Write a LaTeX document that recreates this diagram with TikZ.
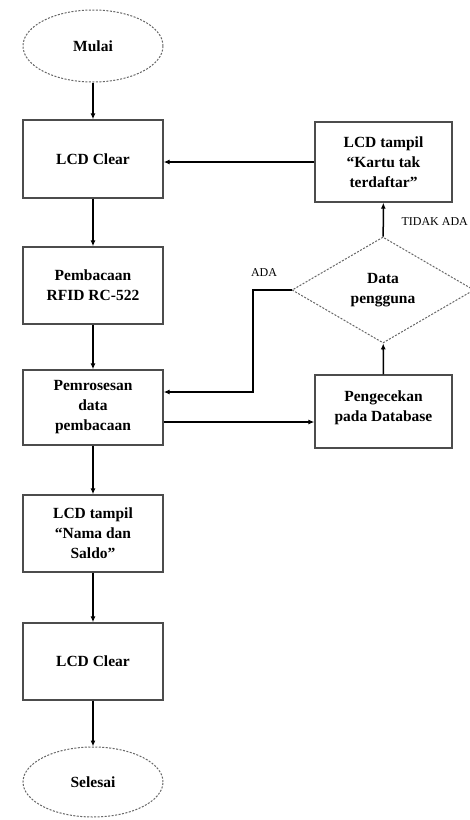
\documentclass[tikz,border=0pt]{standalone}
\usepackage{fontspec}
\setmainfont{Liberation Serif}
\usetikzlibrary{shapes.geometric,arrows.meta}
\begin{document}
\begin{tikzpicture}[x=1pt,y=-1pt,
  box/.style={draw=black!70,line width=1.3pt,minimum width=140pt,inner sep=2pt,align=center,font=\fontsize{15.5}{20}\selectfont\bfseries},
  term/.style={ellipse,draw=black!60,line width=1pt,dash pattern=on 2pt off 1.5pt,minimum width=140pt,minimum height=72pt,font=\fontsize{15.5}{20}\selectfont\bfseries},
  dec/.style={diamond,draw=black!60,line width=1pt,dash pattern=on 2pt off 1.5pt,minimum width=182pt,minimum height=106pt,inner sep=0pt,align=center,font=\fontsize{15.5}{20}\selectfont\bfseries},
  arr/.style={line width=1.5pt,-{Latex[length=6pt,width=5pt]}},
  lab/.style={font=\fontsize{12}{14}\selectfont}]
\useasboundingbox (0,0) rectangle (470,820);
\fill[white] (0,0) rectangle (470,820);
\node[term] (mulai) at (93,46) {Mulai};
\node[box,minimum height=78pt] (lcd1) at (93,159) {LCD Clear};
\node[box,minimum height=77pt] (baca) at (93,285.5) {Pembacaan\\RFID RC-522};
\node[box,minimum height=75pt] (proses) at (93,407.5) {Pemrosesan\\data\\pembacaan};
\node[box,minimum height=77pt] (tampil) at (93,533.5) {LCD tampil\\“Nama dan\\Saldo”};
\node[box,minimum height=77pt] (lcd2) at (93,661.5) {LCD Clear};
\node[term,minimum height=70pt] (selesai) at (93,782) {Selesai};
\node[box,minimum width=137pt,minimum height=80pt] (kartu) at (383.5,162) {LCD tampil\\“Kartu tak\\terdaftar”};
\node[dec] (data) at (383,290) {Data\\pengguna};
\node[box,minimum width=137pt,minimum height=73pt,text depth=10pt] (cek) at (383.5,411.5) {Pengecekan\\pada Database};
\draw[arr] (mulai) -- (lcd1);
\draw[arr] (lcd1) -- (baca);
\draw[arr] (baca) -- (proses);
\draw[arr] (proses) -- (tampil);
\draw[arr] (tampil) -- (lcd2);
\draw[arr] (lcd2) -- (selesai);
\draw[arr] (kartu.west) -- (kartu.west -| lcd1.east);
\draw[arr] (cek) -- (data);
\draw[arr] (data) -- (kartu);
\coordinate (ada) at (253,290);
\draw[arr] (data.west) -- (ada) |- ([yshift=15.5pt]proses.east);
\draw[arr] ([yshift=-14.5pt]proses.east) -- ([yshift=-14.5pt]proses.east -| cek.west);
\node[lab] (adalab) at (264,273) {ADA};
\node[lab,anchor=west] (tidaklab) at (398,222) {TIDAK ADA};
\end{tikzpicture}
\end{document}
